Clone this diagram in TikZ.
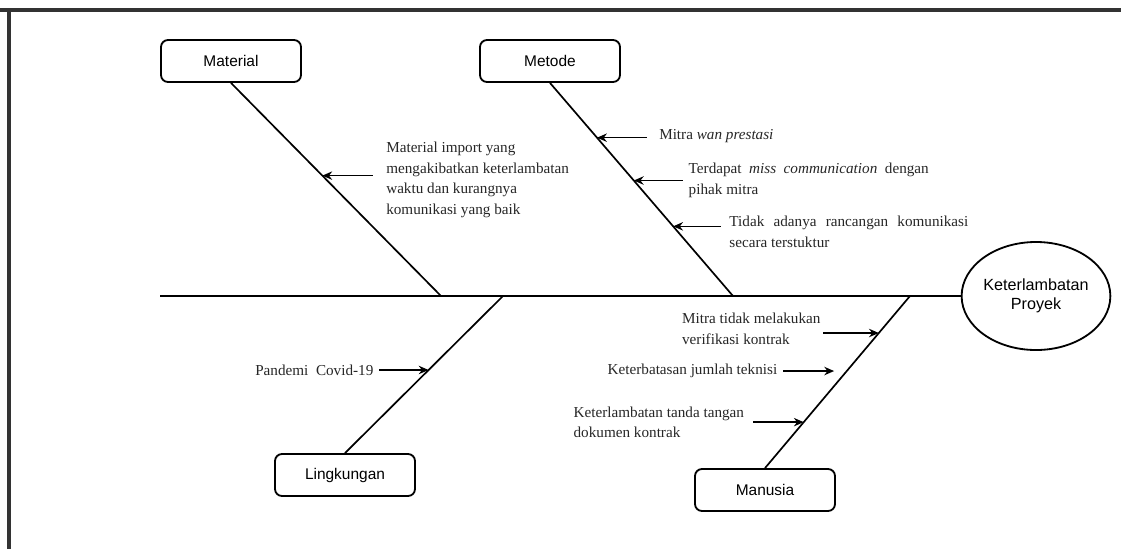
\documentclass[tikz,border=0pt]{standalone}
\usepackage{fontspec}
\setmainfont{Liberation Serif}
\setsansfont{Liberation Sans}
\usetikzlibrary{shapes, arrows.meta, positioning}
\tikzstyle{cat}=[draw,line width=1.3pt,rectangle,rounded corners=5pt,minimum width=3.5cm,minimum height=1.05cm,font=\sffamily\fontsize{11}{13}\selectfont]
\tikzstyle{effect}=[draw,line width=1.3pt,ellipse,inner sep=0pt,minimum width=3.7cm,minimum height=2.7cm,align=center,font=\sffamily\fontsize{11.5}{13.5}\selectfont]
\tikzstyle{bone}=[line width=1.2pt]
\tikzstyle{arr}=[line width=1pt]
\tikzstyle{cause}=[inner sep=0pt,text=black!85,font=\fontsize{10.8}{14.5}\selectfont]
\tikzstyle{frame}=[line width=2.2pt,black!80]

\begin{document}
\begin{tikzpicture}[x=0.025cm,y=-0.025cm,>={Stealth[length=7pt,width=6pt]}]
    \useasboundingbox (0,0) rectangle (1121,549);
    \draw[frame] (0,10) -- (1121,10);
    \draw[frame] (9,10) -- (9,549);
    \node[effect] (effect) at (1036,296) {Keterlambatan\\Proyek};
    \coordinate (tail) at (160,296);
    \draw[line width=1.4pt] (tail) -- (effect.west);
    \node[cat] (material) at (231,61) {Material};
    \node[cat] (metode) at (550,61) {Metode};
    \node[cat] (lingkungan) at (345,475) {Lingkungan};
    \node[cat] (manusia) at (765,490) {Manusia};
    \coordinate (jmat) at (441,296);
    \coordinate (jmet) at (733,296);
    \coordinate (jlin) at (503,296);
    \coordinate (jman) at (910,296);
    \draw[bone] (material.south) -- coordinate[pos=.435] (mat1) (jmat);
    \draw[bone] (metode.south) -- coordinate[pos=.257] (met1) coordinate[pos=.458] (met2) coordinate[pos=.673] (met3) (jmet);
    \draw[bone] (lingkungan.north) -- coordinate[pos=.529] (lin1) (jlin);
    \draw[bone] (manusia.north) -- coordinate[pos=.785] (man1) coordinate[pos=.564] (man2) coordinate[pos=.267] (man3) (jman);
    % material
    \draw[arr,<-] (mat1) -- ++(51,0) coordinate (mat1s);
    \node[cause, right=9pt of mat1s, yshift=-3pt, align=left] (mat1t) {Material import yang\\mengakibatkan keterlambatan\\waktu dan kurangnya\\komunikasi yang baik};
    % metode
    \draw[arr,<-] (met1) -- ++(50,0) coordinate (met1s);
    \node[cause, right=8.5pt of met1s, yshift=1pt] (met1t) {Mitra \textit{wan prestasi}};
    \draw[arr,<-] (met2) -- ++(49,0) coordinate (met2s);
    \node[cause, right=4pt of met2s, text width=6cm, align=justify] (met2t) {Terdapat \textit{miss communication} dengan\linebreak pihak mitra};
    \draw[arr,<-] (met3) -- ++(48,0) coordinate (met3s);
    \node[cause, right=5.7pt of met3s, yshift=-4pt, text width=5.97cm, align=justify] (met3t) {Tidak adanya rancangan komunikasi\linebreak secara terstuktur};
    % lingkungan
    \draw[arr,<-] (lin1) -- ++(-50,0) coordinate (lin1s);
    \node[cause, left=3.5pt of lin1s] (lin1t) {Pandemi\ \ Covid-19};
    % manusia
    \draw[arr,<-] (man1) -- ++(-56,0) coordinate (man1s);
    \node[cause, left=1.5pt of man1s, yshift=3pt, align=left] (man1t) {Mitra tidak melakukan\\verifikasi kontrak};
    \draw[arr,<-] ([xshift=-9pt]man2) -- ++(-51,0) coordinate (man2s);
    \node[cause, left=4pt of man2s] (man2t) {Keterbatasan jumlah teknisi};
    \draw[arr,<-] (man3) -- ++(-51,0) coordinate (man3s);
    \node[cause, left=6pt of man3s, align=left] (man3t) {Keterlambatan tanda tangan\\dokumen kontrak};
\end{tikzpicture}
\end{document}
